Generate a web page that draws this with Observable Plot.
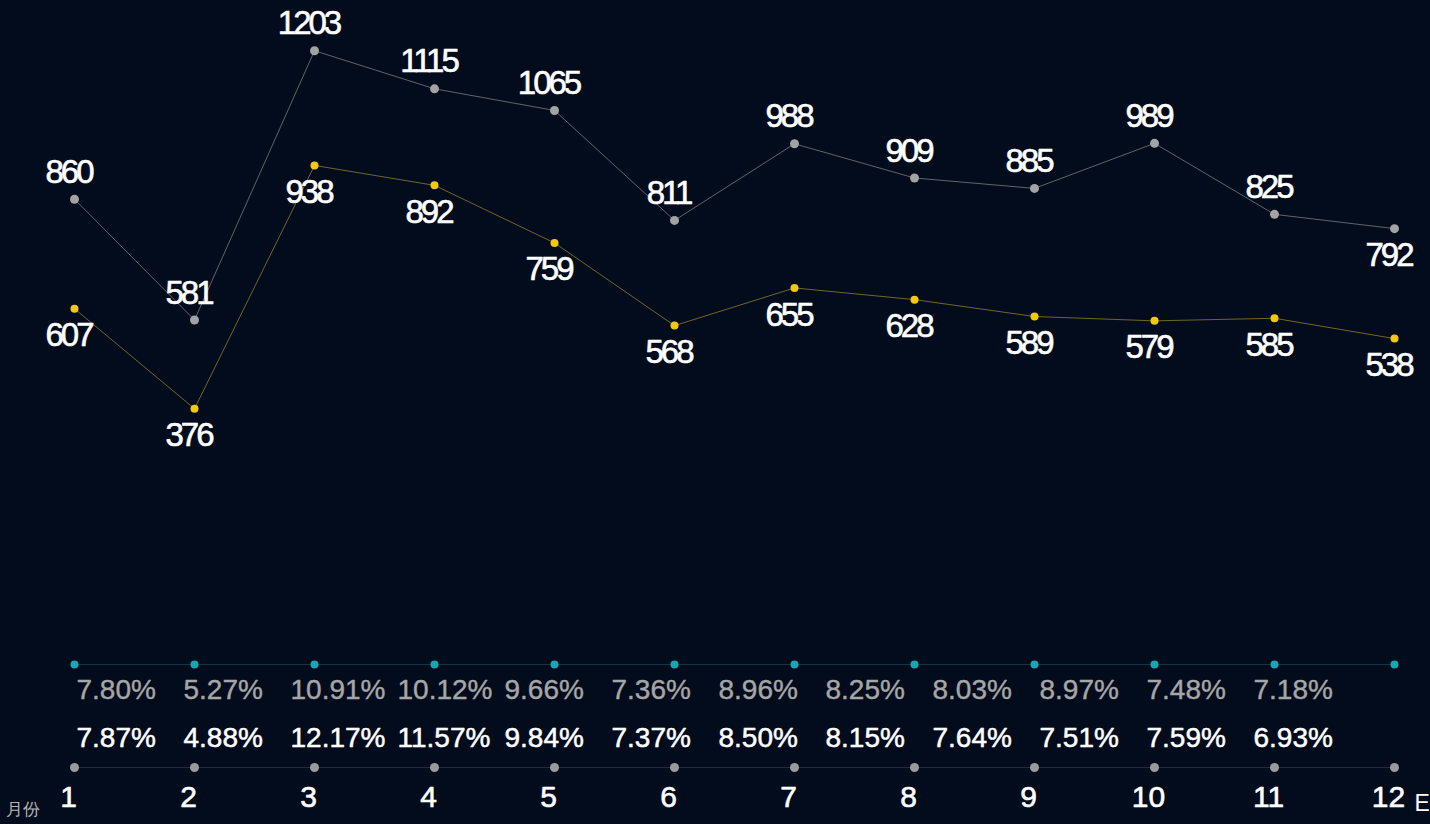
<!DOCTYPE html>
<html>
<head>
<meta charset="utf-8">
<script src="https://cdn.jsdelivr.net/npm/d3@7"></script>
<script src="https://cdn.jsdelivr.net/npm/@observablehq/plot@0.6"></script>
<style>
  html, body { margin: 0; padding: 0; background: #030c1c; }
  #chart { position: relative; width: 1430px; height: 824px; background: #030c1c; overflow: hidden; }
  #chart svg { position: absolute; top: 0; left: 0; }
</style>
</head>
<body>
<div id="chart"></div>
<script>
// ---- data ----
const months = [1, 2, 3, 4, 5, 6, 7, 8, 9, 10, 11, 12];
const seriesGray = [860, 581, 1203, 1115, 1065, 811, 988, 909, 885, 989, 825, 792];
const seriesYellow = [607, 376, 938, 892, 759, 568, 655, 628, 589, 579, 585, 538];
const shareGray = [7.80, 5.27, 10.91, 10.12, 9.66, 7.36, 8.96, 8.25, 8.03, 8.97, 7.48, 7.18];
const shareYellow = [7.87, 4.88, 12.17, 11.57, 9.84, 7.37, 8.50, 8.15, 7.64, 7.51, 7.59, 6.93];
const axisName = "月份";
const axisEnd = "E";

const grayData = months.map((m, i) => ({month: m, value: seriesGray[i]}));
const yellowData = months.map((m, i) => ({month: m, value: seriesYellow[i]}));
const shareData = months.map((m, i) => ({month: m, a: shareGray[i], b: shareYellow[i]}));

const font = "'Liberation Sans', Arial, sans-serif";
const container = document.getElementById("chart");

// ---- top: the two lines ----
const linePlot = Plot.plot({
  width: 1430, height: 824,
  marginLeft: 74, marginRight: 36, marginTop: 0, marginBottom: 253,
  x: {type: "point", domain: months, padding: 0, axis: null},
  y: {domain: [0, 1319], axis: null},
  style: {background: "transparent", fontFamily: font, letterSpacing: "-3px", overflow: "visible"},
  marks: [
    Plot.line(grayData, {x: "month", y: "value", stroke: "#8a8a8a", strokeWidth: 0.7}),
    Plot.line(yellowData, {x: "month", y: "value", stroke: "#a08c2e", strokeWidth: 0.7}),
    Plot.dot(grayData, {x: "month", y: "value", r: 4.5, fill: "#a3a3a3"}),
    Plot.dot(yellowData, {x: "month", y: "value", r: 4, fill: "#f2c811"}),
    Plot.text(grayData.filter(d => d.month !== 12), {x: "month", y: "value", text: d => String(d.value), dy: -27, dx: -6, fill: "white", fontSize: 33, stroke: "white", strokeWidth: 0.6}),
    Plot.text(grayData.filter(d => d.month === 12), {x: "month", y: "value", text: d => String(d.value), dy: 27, dx: -6, fill: "white", fontSize: 33, stroke: "white", strokeWidth: 0.6}),
    Plot.text(yellowData, {x: "month", y: "value", text: d => String(d.value), dy: 27, dx: -6, fill: "white", fontSize: 33, stroke: "white", strokeWidth: 0.6})
  ]
});

// ---- bottom: dot rows and month labels ----
const rowPlot = Plot.plot({
  width: 1430, height: 824,
  marginLeft: 74, marginRight: 36, marginTop: 664, marginBottom: 57,
  x: {type: "point", domain: months, padding: 0, axis: null},
  y: {type: "point", domain: ["teal", "gray"], padding: 0, axis: null},
  style: {background: "transparent", fontFamily: font, overflow: "visible"},
  marks: [
    Plot.ruleY(["teal"], {stroke: "#12343d", strokeWidth: 1}),
    Plot.ruleY(["gray"], {stroke: "#262c36", strokeWidth: 1}),
    Plot.dot(months, {x: d => d, y: () => "teal", r: 4, fill: "#16a7b3"}),
    Plot.dot(months, {x: d => d, y: () => "gray", r: 4.5, fill: "#9a9a9a"}),
    Plot.text(months, {x: d => d, text: d => String(d), frameAnchor: "bottom", dy: 39, dx: -6, fontSize: 30, fill: "white", stroke: "white", strokeWidth: 0.6}),
    Plot.text([axisName], {frameAnchor: "bottom-left", dx: -69, dy: 47, textAnchor: "start", fontSize: 17, fill: "#b4b4b4"}),
    Plot.text([axisEnd], {frameAnchor: "bottom-right", dx: 20, dy: 43, textAnchor: "start", fontSize: 23, fill: "white"})
  ]
});

// ---- percentage rows ----
const sharePlot = Plot.plot({
  width: 1430, height: 824,
  marginLeft: 72, marginRight: 174, marginTop: 690, marginBottom: 86,
  x: {type: "point", domain: months, padding: 0, axis: null},
  y: {type: "point", domain: ["a", "b"], padding: 0, axis: null},
  style: {background: "transparent", fontFamily: font, overflow: "visible"},
  marks: [
    Plot.text(shareData, {x: "month", y: () => "a", text: d => d.a.toFixed(2) + "%", textAnchor: "start", fontSize: 28, fill: "#a6a6a6", stroke: "#a6a6a6", strokeWidth: 0.4}),
    Plot.text(shareData, {x: "month", y: () => "b", text: d => d.b.toFixed(2) + "%", textAnchor: "start", fontSize: 28, fill: "white", stroke: "white", strokeWidth: 0.5})
  ]
});

container.append(rowPlot, sharePlot, linePlot);
</script>
</body>
</html>
